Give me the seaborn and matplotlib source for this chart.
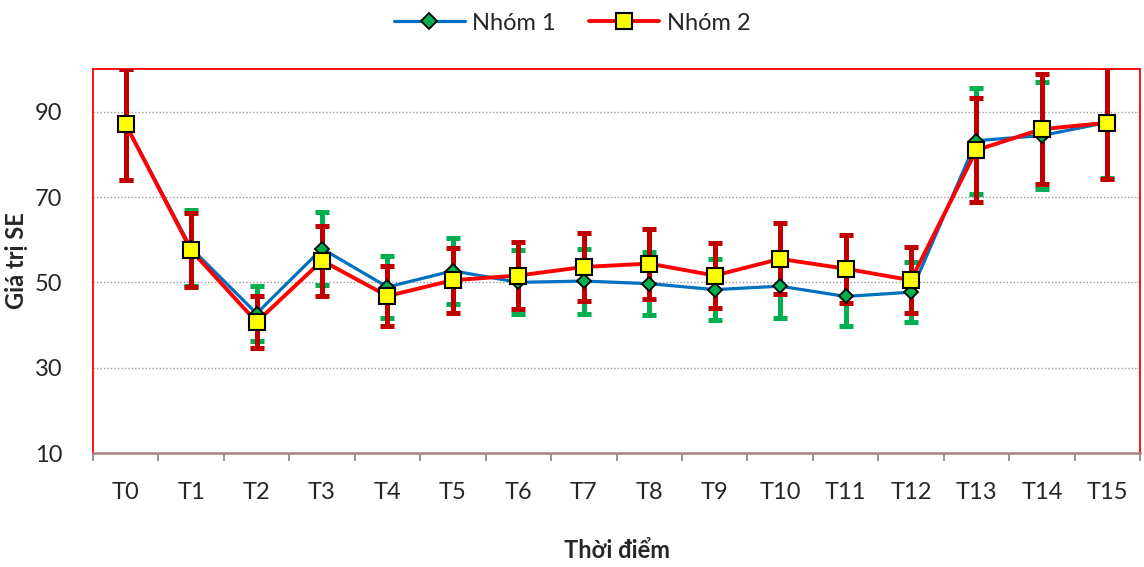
import numpy as np
import pandas as pd
import matplotlib
matplotlib.use("Agg")
import matplotlib.pyplot as plt
from matplotlib.lines import Line2D
from matplotlib.ticker import FixedLocator
import seaborn as sns

# Time points and per-group means with their error half-widths
time_points = ["T0", "T1", "T2", "T3", "T4", "T5", "T6", "T7",
               "T8", "T9", "T10", "T11", "T12", "T13", "T14", "T15"]
group1_mean = [87.0, 58.0, 42.7, 57.9, 48.9, 52.7, 50.0, 50.3,
               49.7, 48.3, 49.1, 46.7, 47.7, 83.2, 84.4, 87.5]
group1_err = [13.0, 8.9, 6.4, 8.6, 7.3, 7.7, 7.5, 7.6,
              7.4, 7.2, 7.4, 6.9, 7.1, 12.4, 12.6, 13.0]
group2_mean = [87.0, 57.5, 40.7, 55.1, 46.8, 50.5, 51.6, 53.6,
               54.4, 51.6, 55.5, 53.2, 50.5, 81.0, 85.9, 87.4]
group2_err = [12.9, 8.7, 6.2, 8.2, 7.0, 7.6, 7.8, 8.0,
              8.2, 7.7, 8.3, 8.0, 7.7, 12.1, 12.9, 13.1]
group_names = ["Nhóm 1", "Nhóm 2"]
y_ticks = [10, 30, 50, 70, 90]

sns.set_theme(style="white")
plt.rcParams["font.family"] = ["Lato", "DejaVu Sans"]

pos = np.arange(len(time_points))
df = pd.DataFrame({
    "pos": np.concatenate([pos, pos]),
    "value": group1_mean + group2_mean,
    "group": [group_names[0]] * len(pos) + [group_names[1]] * len(pos),
})

fig = plt.figure(figsize=(11.44, 5.67), dpi=100)
ax = fig.add_axes([0.0813, 0.201, 0.9152, 0.6773])

c_line1, c_mark1, c_err1 = "#0070C0", "#00B050", "#00B050"
c_line2, c_mark2, c_err2 = "#FF0000", "#FFFF00", "#C00000"

# Error bars
ax.errorbar(pos, group1_mean, yerr=group1_err, fmt="none", ecolor=c_err1,
            elinewidth=3.6, capsize=4.8, capthick=3.6, zorder=2)
ax.errorbar(pos, group2_mean, yerr=group2_err, fmt="none", ecolor=c_err2,
            elinewidth=3.6, capsize=4.8, capthick=3.6, zorder=3)

# Lines through the means
sns.lineplot(data=df, x="pos", y="value", hue="group",
             palette={group_names[0]: c_line1, group_names[1]: c_line2},
             ax=ax, legend=False, sort=False, zorder=4)
for ln, lw in zip(ax.get_lines()[-2:], [2.3, 2.8]):
    ln.set_linewidth(lw)
ax.get_lines()[-1].set_zorder(5)

# Markers
ax.plot(pos, group1_mean, linestyle="none", marker="D", markersize=7.6,
        markerfacecolor=c_mark1, markeredgecolor="black", markeredgewidth=1.3,
        zorder=6)
ax.plot(pos, group2_mean, linestyle="none", marker="s", markersize=11,
        markerfacecolor=c_mark2, markeredgecolor="black", markeredgewidth=1.5,
        zorder=7)

ax.set_xlim(-0.5, len(time_points) - 0.5)
ax.set_ylim(10, 100)
ax.set_yticks(y_ticks)
ax.set_xticks(pos)
ax.set_xticklabels(time_points)
ax.xaxis.set_minor_locator(FixedLocator(np.arange(len(time_points) + 1) - 0.5))
ax.tick_params(axis="x", which="major", length=0, pad=21, labelsize=17)
ax.tick_params(axis="x", which="minor", length=6, width=1.3, color="#8c8c8c",
               direction="out", bottom=True)
ax.tick_params(axis="y", length=0, pad=22, labelsize=17)

for yv in y_ticks[1:]:
    ax.axhline(yv, color="#9a9a9a", linestyle=(0, (1, 1.5)), linewidth=1.0,
               zorder=1)

for side in ["left", "top", "right"]:
    ax.spines[side].set_color("#FF0000")
    ax.spines[side].set_linewidth(1.3)
ax.spines["bottom"].set_color("#a88080")
ax.spines["bottom"].set_linewidth(1.8)

ax.set_xlabel("Thời điểm", fontsize=17, fontweight="bold", labelpad=26)
ax.set_ylabel("Giá trị SE", fontsize=17, fontweight="bold")
ax.yaxis.set_label_coords(-0.062, 0.5)

handles = [
    Line2D([], [], color=c_line1, linewidth=2.3, marker="D", markersize=8,
           markerfacecolor=c_mark1, markeredgecolor="black", markeredgewidth=1.3),
    Line2D([], [], color=c_line2, linewidth=2.8, marker="s", markersize=11,
           markerfacecolor=c_mark2, markeredgecolor="black", markeredgewidth=1.5),
]
fig.legend(handles, group_names, loc="upper center", bbox_to_anchor=(0.5, 1.015),
           ncol=2, frameon=False, fontsize=17, handlelength=3.0,
           columnspacing=1.4, handletextpad=0.3)

fig.savefig("out.png", dpi=100)
